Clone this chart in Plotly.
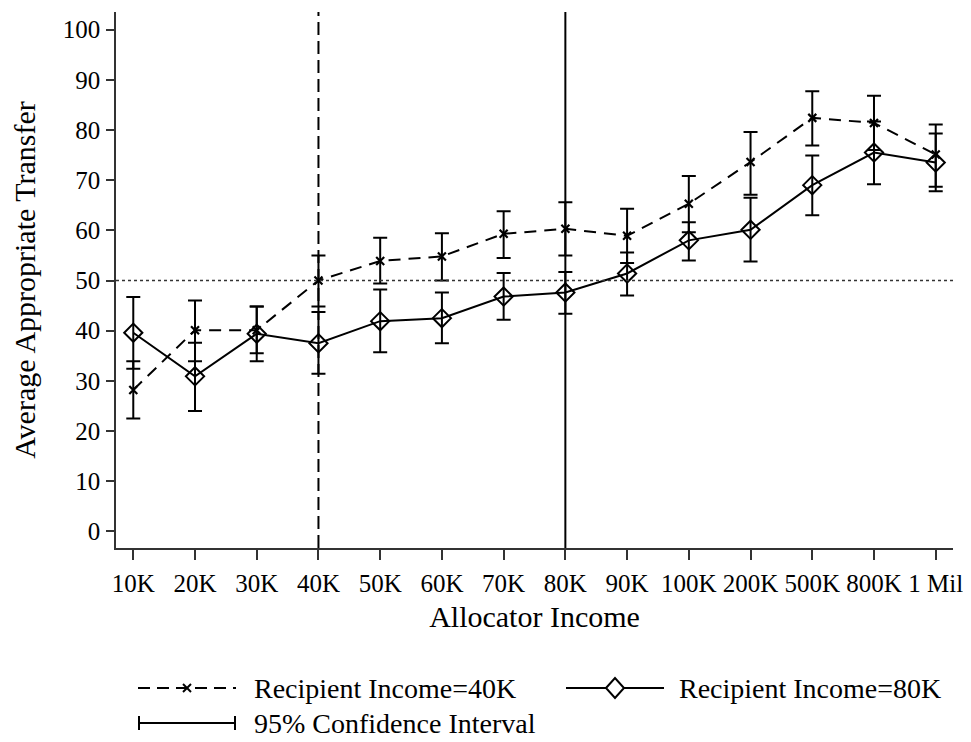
import plotly.graph_objects as go

categories = ["10K", "20K", "30K", "40K", "50K", "60K", "70K", "80K", "90K",
              "100K", "200K", "500K", "800K", "1 Mil"]

mean_40k = [28.2, 40.1, 40.1, 50.0, 53.9, 54.8, 59.3, 60.3, 58.9, 65.3, 73.6, 82.4, 81.4, 75.1]
hi_40k   = [33.9, 46.0, 44.8, 55.0, 58.5, 59.4, 63.8, 65.6, 64.3, 70.8, 79.6, 87.7, 86.8, 81.1]
lo_40k   = [22.5, 33.9, 35.5, 44.8, 49.4, 50.0, 54.5, 55.0, 53.5, 59.6, 67.1, 76.9, 76.0, 68.7]

mean_80k = [39.6, 30.9, 39.4, 37.5, 41.9, 42.5, 46.8, 47.6, 51.4, 58.0, 60.1, 69.0, 75.5, 73.5]
hi_80k   = [46.7, 37.6, 44.8, 43.7, 48.2, 47.6, 51.5, 51.7, 55.6, 61.6, 66.5, 74.9, 81.7, 79.3]
lo_80k   = [32.4, 24.0, 33.9, 31.4, 35.7, 37.5, 42.2, 43.4, 47.0, 54.0, 53.8, 63.0, 69.2, 67.8]

y_ticks = [0, 10, 20, 30, 40, 50, 60, 70, 80, 90, 100]
reference_level = 50
recipient_lines = ["40K", "80K"]
legend_labels = ["Recipient Income=40K", "Recipient Income=80K", "95% Confidence Interval"]

FONT = "Liberation Serif"
# the page body adds an 8px offset, so the figure is 8px smaller than the window
OFF = 8
W, H = 971 - OFF, 742 - OFF
ML, MR, MT, MB = 116 - OFF, 18, 12 - OFF, 194
PW, PH = W - ML - MR, H - MT - MB


def err(mean, hi, lo):
    plus = [h - m for h, m in zip(hi, mean)]
    minus = [m - l for m, l in zip(mean, lo)]
    return dict(type="data", symmetric=False, array=plus, arrayminus=minus,
                color="black", thickness=2, width=7)


def px(xw):
    # window pixel -> paper fraction
    return (xw - OFF - ML) / PW


def py(yw):
    return (H - MB - (yw - OFF)) / PH


fig = go.Figure()

fig.add_trace(go.Scatter(
    x=categories, y=mean_40k, name=legend_labels[0],
    mode="lines+markers",
    line=dict(color="black", width=2, dash="12px,8px"),
    marker=dict(symbol="x-thin", size=8, line=dict(color="black", width=2.2)),
    error_y=err(mean_40k, hi_40k, lo_40k),
))

fig.add_trace(go.Scatter(
    x=categories, y=mean_80k, name=legend_labels[1],
    mode="lines+markers",
    line=dict(color="black", width=2),
    marker=dict(symbol="diamond-open", size=14, color="black", line=dict(color="black", width=2)),
    error_y=err(mean_80k, hi_80k, lo_80k),
))

# vertical reference lines at recipient incomes
fig.add_shape(type="line", xref="x", yref="paper", x0=recipient_lines[0], x1=recipient_lines[0],
              y0=0, y1=1, line=dict(color="black", width=2, dash="13px,6px"))
fig.add_shape(type="line", xref="x", yref="paper", x0=recipient_lines[1], x1=recipient_lines[1],
              y0=0, y1=1, line=dict(color="black", width=2))
# horizontal dotted line at 50
fig.add_shape(type="line", xref="paper", yref="y", x0=0, x1=1,
              y0=reference_level, y1=reference_level,
              line=dict(color="#333333", width=1.5, dash="dot"))

# ---- legend (drawn below the plot) ----
row1, row2 = 688, 723
leg_line = dict(color="black", width=2)
# item 1: dashed line with x marker
fig.add_shape(type="line", xref="paper", yref="paper", x0=px(138), x1=px(236), y0=py(row1), y1=py(row1),
              line=dict(color="black", width=2, dash="12px,7px"))
for dx, dy in [(-4, -4), (-4, 4)]:
    fig.add_shape(type="line", xref="paper", yref="paper",
                  x0=px(187 + dx), x1=px(187 - dx), y0=py(row1 + dy), y1=py(row1 - dy), line=leg_line)
# item 2: solid line with diamond
fig.add_shape(type="line", xref="paper", yref="paper", x0=px(566), x1=px(606), y0=py(row1), y1=py(row1), line=leg_line)
fig.add_shape(type="line", xref="paper", yref="paper", x0=px(624), x1=px(664), y0=py(row1), y1=py(row1), line=leg_line)
cx, hw, hh = 615, 9, 10
fig.add_shape(type="path", xref="paper", yref="paper",
              path=(f"M {px(cx - hw)} {py(row1)} L {px(cx)} {py(row1 - hh)} "
                    f"L {px(cx + hw)} {py(row1)} L {px(cx)} {py(row1 + hh)} Z"),
              line=leg_line, fillcolor="rgba(0,0,0,0)")
# item 3: CI glyph
fig.add_shape(type="line", xref="paper", yref="paper", x0=px(138), x1=px(236), y0=py(row2), y1=py(row2), line=leg_line)
for xc in (139, 235):
    fig.add_shape(type="line", xref="paper", yref="paper", x0=px(xc), x1=px(xc),
                  y0=py(row2 - 7), y1=py(row2 + 7), line=leg_line)

for text, xt, yt in [(legend_labels[0], 252, row1), (legend_labels[1], 677, row1), (legend_labels[2], 252, row2)]:
    fig.add_annotation(text=text, xref="paper", yref="paper", x=px(xt), y=py(yt),
                       xanchor="left", yanchor="middle", showarrow=False,
                       font=dict(family=FONT, size=28, color="black"))

fig.update_layout(
    width=W, height=H,
    margin=dict(l=ML, r=MR, t=MT, b=MB),
    paper_bgcolor="white", plot_bgcolor="white",
    font=dict(family=FONT, color="black", size=25),
    showlegend=False,
    xaxis=dict(
        type="category", range=[-0.28, 13.28],
        showline=True, linecolor="#333333", linewidth=1.5, mirror=False,
        ticks="outside", ticklen=10, tickwidth=1.5, tickcolor="#333333",
        tickangle=0, showgrid=False, zeroline=False, ticklabelstandoff=2,
        tickfont=dict(family=FONT, size=25, color="black"),
        title=dict(text="Allocator Income", font=dict(family=FONT, size=30, color="black"), standoff=10),
    ),
    yaxis=dict(
        range=[-3.3, 103.5], tickvals=y_ticks,
        showline=True, linecolor="#333333", linewidth=1.5, mirror=False,
        ticks="outside", ticklen=8, tickwidth=1.5, tickcolor="#333333",
        showgrid=False, zeroline=False, ticklabelstandoff=1,
        tickfont=dict(family=FONT, size=25, color="black"),
        title=dict(text="Average Appropriate Transfer", font=dict(family=FONT, size=30, color="black"), standoff=19),
    ),
)

fig.write_html("out.html")
